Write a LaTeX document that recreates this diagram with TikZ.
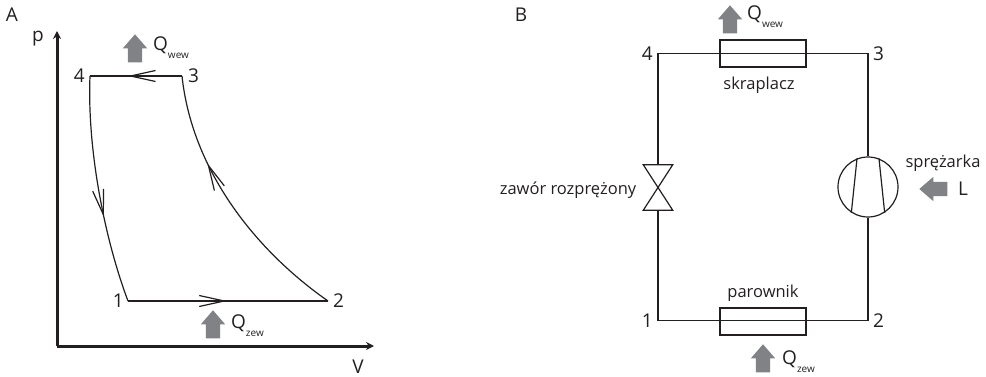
\documentclass[tikz,border=0pt]{standalone}
\usepackage{xcolor}
\usepackage{fontspec}
\setmainfont{Open Sans}
\usepackage{tikz}
\usetikzlibrary{shapes.arrows, arrows.meta, positioning, decorations.markings}
\definecolor{mydark}{RGB}{35,31,32}
\definecolor{mygrey}{RGB}{128,130,133}
\newcommand{\lowsub}[1]{\raisebox{-0.8ex}{\fontsize{10}{10}\selectfont #1}}
\tikzset{
  plain/.style={font=\fontsize{19}{19}\selectfont, text=mydark, inner sep=0pt},
  small/.style={font=\fontsize{16.5}{16.5}\selectfont, text=mydark, inner sep=0pt},
  heatarrow/.style={single arrow, fill=mygrey, draw=none, inner sep=7pt,
    minimum width=24pt, minimum height=28pt, single arrow head extend=5pt,
    single arrow tip angle=82, anchor=tip},
  axisline/.style={-{Stealth[length=8pt,width=8pt]}, line width=3pt, color=mydark},
  curve/.style={line width=1.2pt, color=mydark},
  pipe/.style={line width=1.2pt, color=mydark},
  hxbox/.style={rectangle, draw=mydark, line width=1.2pt, minimum width=86pt,
    minimum height=27pt, inner sep=0pt},
  flowmark/.style={postaction={decorate, decoration={markings,
    mark=at position #1 with {\arrow{Straight Barb[length=25pt,width=11pt,line width=1.2pt]}}}}}
}
\begin{document}
\begin{tikzpicture}[x=1pt, y=-1pt]
  \useasboundingbox (0,0) rectangle (986,377);

  \node[plain] (tagA) at (12,15) {A};
  \node[plain] (tagB) at (521,15) {B};

  \coordinate (orig) at (57,346);
  \coordinate (ptop) at (57,31);
  \coordinate (vend) at (374,346);
  \draw[axisline] (orig) -- (ptop);
  \draw[axisline] (orig) -- (vend);
  \node[plain] (plab) at (38,39) {p};
  \node[plain] (vlab) at (358,367) {V};

  \coordinate (a1) at (128,301);
  \coordinate (a2) at (328,301);
  \coordinate (a3) at (182,76);
  \coordinate (a4) at (90,76);
  \draw[curve, flowmark=0.59] (a3) -- (a4);
  \draw[curve, flowmark=0.495] (a1) -- (a2);
  \draw[curve, flowmark=0.62] (a4) .. controls (87,150) and (105,240) .. (a1);
  \draw[curve, flowmark=0.67] (a2) .. controls (255,250) and (192,170) .. (a3);
  \node[plain, left=5pt of a4] (alab4) {4};
  \node[plain, right=6pt of a3] (alab3) {3};
  \node[plain, left=4pt of a1] (alab1) {1};
  \node[plain, right=5pt of a2] (alab2) {2};

  \node[heatarrow, shape border rotate=90] (aqwew) at (135,34) {};
  \node[plain, anchor=west] (aqwewlab) at (153,48) {Q\lowsub{wew}};
  \node[heatarrow, shape border rotate=90] (aqzew) at (213,310) {};
  \node[plain, anchor=west] (aqzewlab) at (231,326) {Q\lowsub{zew}};

  \coordinate (b1) at (658,320.5);
  \coordinate (b2) at (868,320.5);
  \coordinate (b3) at (868,53.5);
  \coordinate (b4) at (658,53.5);
  \node[hxbox] (skr) at (763,53.5) {};
  \node[hxbox] (par) at (763,321.5) {};
  \node[circle, draw=mydark, line width=1.2pt, minimum size=60pt, inner sep=0pt] (comp) at (868,187) {};
  \node[minimum width=29pt, minimum height=45pt, inner sep=0pt] (valve) at (658,187.5) {};

  \draw[pipe] (b4) -- (b3);
  \draw[pipe] (b3) -- (comp.north);
  \draw[pipe] (comp.south) -- (b2);
  \draw[pipe] (b2) -- (b1);
  \draw[pipe] (b1) -- (valve.south);
  \draw[pipe] (valve.north) -- (b4);
  \draw[pipe] (comp.111) -- (comp.237);
  \draw[pipe] (comp.69) -- (comp.303);
  \draw[pipe] (valve.north west) -- (valve.south east) -- (valve.south west) -- (valve.north east) -- cycle;

  \node[plain, left=5pt of b4] (blab4) {4};
  \node[plain, right=5pt of b3] (blab3) {3};
  \node[plain, left=5pt of b1] (blab1) {1};
  \node[plain, right=5pt of b2] (blab2) {2};

  \node[small, below=9pt of skr, xshift=-4pt] (skrlab) {skraplacz};
  \node[small, above=6pt of par] (parlab) {parownik};
  \node[small] (complab) at (943,163) {sprężarka};
  \node[small] (valvelab) at (568,190) {zawór rozprężony};

  \node[heatarrow, shape border rotate=90] (bqwew) at (730,5) {};
  \node[plain, anchor=west] (bqwewlab) at (747,17) {Q\lowsub{wew}};
  \node[heatarrow, shape border rotate=90] (bqzew) at (763,344) {};
  \node[plain, anchor=west] (bqzewlab) at (782,362) {Q\lowsub{zew}};
  \node[heatarrow, shape border rotate=180] (bl) at (919,189) {};
  \node[plain] (blab) at (963,189) {L};
\end{tikzpicture}
\end{document}
